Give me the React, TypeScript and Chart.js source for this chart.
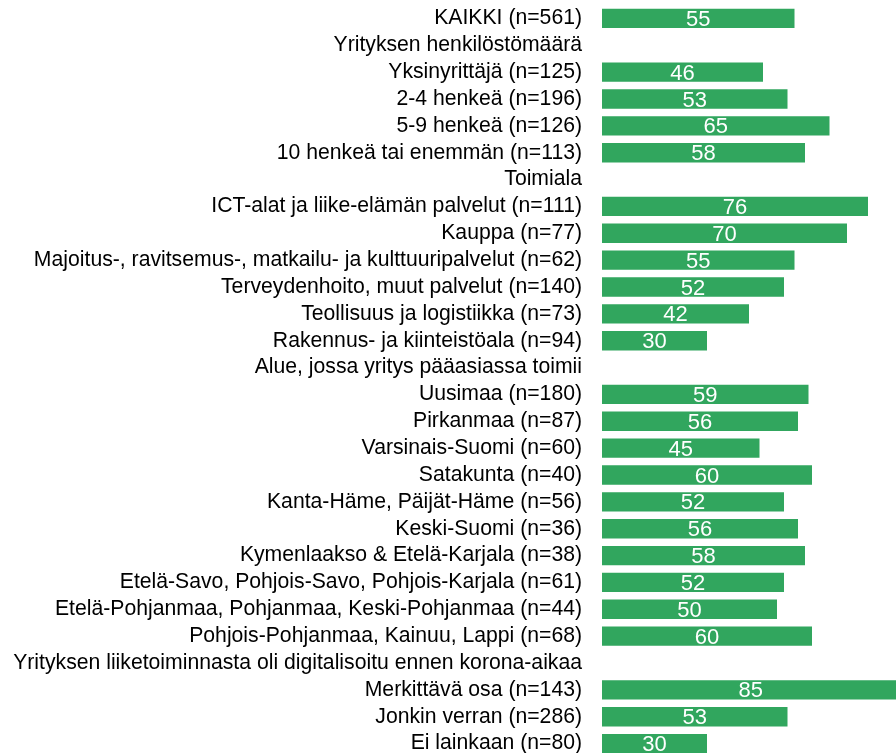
import React, { useEffect, useRef } from "react";
import { Chart, registerables } from "chart.js";

Chart.register(...registerables);

const categories: string[] = [
  "KAIKKI (n=561)",
  "Yrityksen henkilöstömäärä",
  "Yksinyrittäjä (n=125)",
  "2-4 henkeä (n=196)",
  "5-9 henkeä (n=126)",
  "10 henkeä tai enemmän (n=113)",
  "Toimiala",
  "ICT-alat ja liike-elämän palvelut (n=111)",
  "Kauppa (n=77)",
  "Majoitus-, ravitsemus-, matkailu- ja kulttuuripalvelut (n=62)",
  "Terveydenhoito, muut palvelut (n=140)",
  "Teollisuus ja logistiikka (n=73)",
  "Rakennus- ja kiinteistöala (n=94)",
  "Alue, jossa yritys pääasiassa toimii",
  "Uusimaa (n=180)",
  "Pirkanmaa (n=87)",
  "Varsinais-Suomi (n=60)",
  "Satakunta (n=40)",
  "Kanta-Häme, Päijät-Häme (n=56)",
  "Keski-Suomi (n=36)",
  "Kymenlaakso & Etelä-Karjala (n=38)",
  "Etelä-Savo, Pohjois-Savo, Pohjois-Karjala (n=61)",
  "Etelä-Pohjanmaa, Pohjanmaa, Keski-Pohjanmaa (n=44)",
  "Pohjois-Pohjanmaa, Kainuu, Lappi (n=68)",
  "Yrityksen liiketoiminnasta oli digitalisoitu ennen korona-aikaa",
  "Merkittävä osa (n=143)",
  "Jonkin verran (n=286)",
  "Ei lainkaan (n=80)",
];

const values: (number | null)[] = [
  55,
  null,
  46, 53, 65, 58,
  null,
  76, 70, 55, 52, 42, 30,
  null,
  59, 56, 45, 60, 52, 56, 58, 52, 50, 60,
  null,
  85, 53, 30,
];

const xMax = 100;
const FONT = "'Liberation Sans', Arial, sans-serif";

const valueLabels = {
  id: "valueLabels",
  afterDatasetsDraw(chart: any) {
    const ctx = chart.ctx;
    const meta = chart.getDatasetMeta(0);
    ctx.save();
    ctx.fillStyle = "#ffffff";
    ctx.font = `22px ${FONT}`;
    ctx.textAlign = "center";
    ctx.textBaseline = "middle";
    meta.data.forEach((bar: any, i: number) => {
      const v = chart.data.datasets[0].data[i];
      if (v === null || v === undefined) return;
      const cx = (bar.x + bar.base) / 2;
      ctx.fillText(String(v), cx, bar.y + 1.5);
    });
    ctx.restore();
  },
};

export default function App() {
  const ref = useRef<HTMLCanvasElement>(null);
  useEffect(() => {
    if (!ref.current) return;
    const chart = new Chart(ref.current, {
      type: "bar",
      data: {
        labels: categories,
        datasets: [
          {
            data: values,
            backgroundColor: "#31a65e",
            borderWidth: 0,
            barPercentage: 0.72,
            categoryPercentage: 1,
          },
        ],
      },
      options: {
        indexAxis: "y",
        animation: false,
        responsive: false,
        maintainAspectRatio: false,
        layout: { padding: { top: 5, bottom: 3, left: 0, right: 0 } },
        plugins: {
          legend: { display: false },
          tooltip: { enabled: false },
        },
        scales: {
          x: {
            display: false,
            min: 0,
            max: xMax,
          },
          y: {
            grid: { display: false, drawTicks: false },
            border: { display: false },
            ticks: {
              autoSkip: false,
              padding: 20,
              color: "#000000",
              font: { family: FONT, size: 21.2 },
            },
            afterFit(scale: any) {
              scale.width = 602;
              scale.paddingTop = 0;
              scale.paddingBottom = 0;
            },
          },
        },
      },
      plugins: [valueLabels],
    });
    return () => chart.destroy();
  }, []);
  return (
    <div
      style={{
        position: "fixed",
        left: 0,
        top: 0,
        width: 896,
        height: 753,
        overflow: "hidden",
        background: "#fff",
      }}
    >
      <canvas ref={ref} width={952} height={760} style={{ display: "block" }} />
    </div>
  );
}
